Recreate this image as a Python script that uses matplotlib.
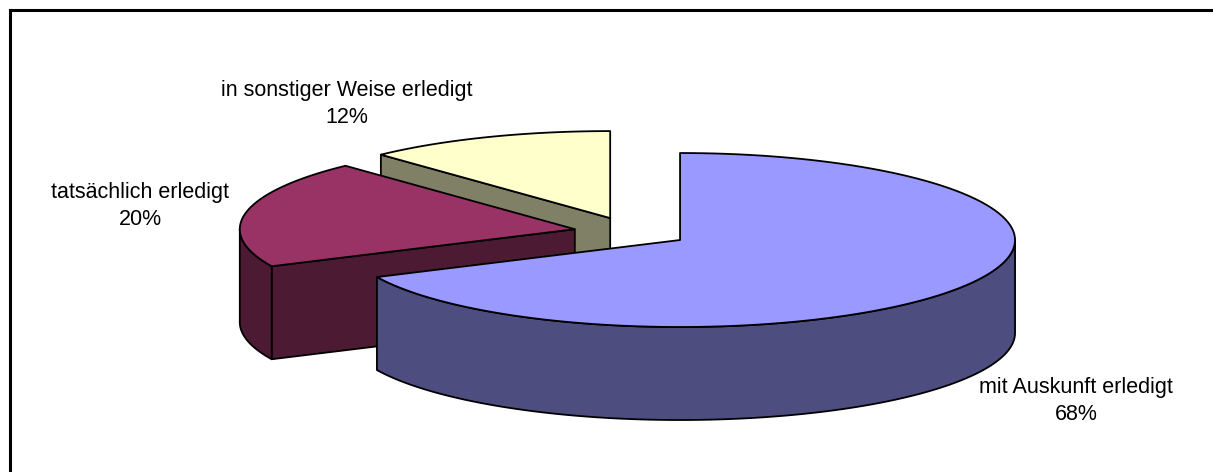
import numpy as np
import matplotlib
matplotlib.use("Agg")
import matplotlib.pyplot as plt
from matplotlib.patches import Polygon

# Erledigungsarten (Anteile in Prozent)
labels = ["mit Auskunft erledigt", "tatsächlich erledigt", "in sonstiger Weise erledigt"]
shares = [68, 20, 12]
top_colors = ["#9999FF", "#993366", "#FFFFCC"]

# where the two-line labels go (pixel coords, y downwards)
label_pos = [(1076, 401), (140, 206), (347, 104)]

# pie geometry in pixels
CX, CY = 631.4, 232.0
RX, RY = 335.0, 87.0
DEPTH = 93.0
EXPLODE = 0.172
EDGE = "black"
LW = 1.3


def darker(hex_color, f=0.5):
    rgb = np.array(matplotlib.colors.to_rgb(hex_color))
    return tuple(rgb * f)


def pt(cx, cy, deg, dz=0.0):
    t = np.radians(deg)
    return cx + RX * np.cos(t), cy - RY * np.sin(t) + dz


def arc(cx, cy, a0, a1, dz=0.0, n=120):
    ang = np.linspace(a0, a1, n)
    t = np.radians(ang)
    return np.column_stack([cx + RX * np.cos(t), cy - RY * np.sin(t) + dz])


def draw_slice(ax, a0, a1, color):
    # a0 < a1, counter-clockwise in degrees
    mid = np.radians((a0 + a1) / 2)
    cx = CX + EXPLODE * RX * np.cos(mid)
    cy = CY - EXPLODE * RY * np.sin(mid)
    side = darker(color)

    # radial walls, only those facing the viewer
    for ang, normal in ((a0, a0 - 90), (a1, a1 + 90)):
        if np.sin(np.radians(normal)) < -1e-6:
            ex, ey = pt(cx, cy, ang)
            quad = [(cx, cy), (ex, ey), (ex, ey + DEPTH), (cx, cy + DEPTH)]
            ax.add_patch(Polygon(quad, closed=True, fc=side, ec=EDGE, lw=LW, joinstyle="round"))

    # curved outer wall on the front half (sin < 0)
    for lo in (-540, -180, 180, 540):
        s0, s1 = max(a0, lo), min(a1, lo + 180)
        if s1 > s0:
            upper = arc(cx, cy, s0, s1)
            lower = arc(cx, cy, s0, s1, DEPTH)[::-1]
            ax.add_patch(Polygon(np.vstack([upper, lower]), closed=True,
                                 fc=side, ec=EDGE, lw=LW, joinstyle="round"))

    # top face
    top = np.vstack([[cx, cy], arc(cx, cy, a0, a1)])
    ax.add_patch(Polygon(top, closed=True, fc=color, ec=EDGE, lw=LW, joinstyle="round"))


fig = plt.figure(figsize=(12.13, 4.72), dpi=100)
ax = fig.add_axes([0, 0, 1, 1])
ax.set_xlim(0, 1213)
ax.set_ylim(472, 0)
ax.axis("off")

# slices go clockwise from 12 o'clock
spans = []
start = 90.0
for s in shares:
    end = start - s / sum(shares) * 360.0
    spans.append((end, start))
    start = end

# paint back slices first
order = sorted(range(len(shares)),
               key=lambda i: np.sin(np.radians(sum(spans[i]) / 2)), reverse=True)
for i in order:
    draw_slice(ax, spans[i][0], spans[i][1], top_colors[i])

for lab, val, (x, y) in zip(labels, shares, label_pos):
    ax.text(x, y, f"{lab}\n{val}%", ha="center", va="center",
            fontsize=15.5, family="Liberation Sans", linespacing=1.35)

# chart frame (top and left edge)
ax.plot([9.5, 9.5], [472, 9.5], color="black", lw=2.2, solid_capstyle="projecting")
ax.plot([9.5, 1213], [9.5, 9.5], color="black", lw=2.2, solid_capstyle="projecting")

fig.savefig("out.png", dpi=100)
